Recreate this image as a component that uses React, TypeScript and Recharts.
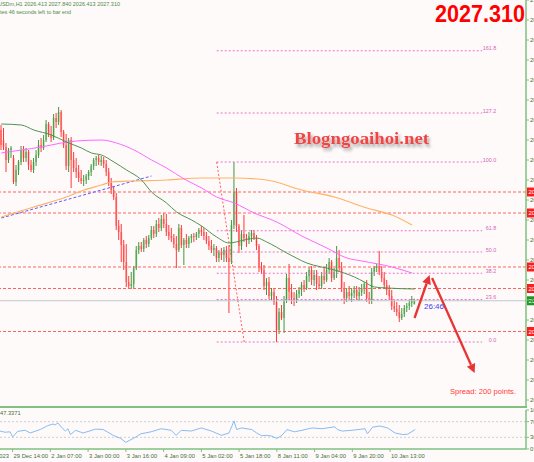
import React from 'react';
import { ComposedChart, Bar, Line, XAxis, YAxis, ReferenceLine } from 'recharts';

const opens = [
  2070.0, 2067.5, 2065.75, 2062.5, 2065.0, 2063.0, 2057.0, 2060.0, 2062.0, 2065.0,
  2063.0, 2064.5, 2061.25, 2060.0, 2062.0, 2063.75, 2066.25, 2065.5, 2067.5, 2071.5,
  2069.0, 2068.0, 2073.0, 2072.0, 2074.5, 2069.5, 2066.25, 2061.0, 2067.5, 2062.5,
  2060.5, 2059.5, 2058.0, 2057.25, 2057.5, 2058.5, 2059.5, 2061.0, 2062.5, 2063.0,
  2062.0, 2062.5, 2061.5, 2059.5, 2056.75, 2055.0, 2053.25, 2046.0, 2044.5, 2041.25,
  2037.0, 2032.0, 2031.0, 2031.5, 2035.5, 2040.0, 2041.0, 2040.25, 2042.5, 2041.5,
  2043.0, 2045.0, 2044.0, 2046.5, 2045.5, 2047.75, 2046.5, 2044.5, 2043.5, 2043.0,
  2041.5, 2040.0, 2045.5, 2041.25, 2042.5, 2041.5, 2043.0, 2043.5, 2043.25, 2044.0,
  2045.0, 2044.5, 2043.5, 2042.25, 2041.0, 2040.0, 2040.5, 2038.0, 2039.5, 2038.75,
  2040.0, 2038.0, 2037.0, 2046.25, 2054.5, 2046.0, 2041.0, 2044.0, 2043.0, 2042.5,
  2043.5, 2044.25, 2043.0, 2041.0, 2035.5, 2035.0, 2031.0, 2032.0, 2028.5, 2029.5,
  2027.0, 2020.0, 2024.5, 2023.0, 2027.5, 2033.0, 2029.5, 2028.0, 2027.5, 2029.0,
  2030.0, 2031.25, 2030.5, 2033.5, 2035.0, 2032.5, 2033.75, 2031.5, 2031.0, 2033.5,
  2032.5, 2035.0, 2037.0, 2033.0, 2034.5, 2038.0, 2035.5, 2030.5, 2028.0, 2029.5,
  2028.5, 2029.25, 2030.0, 2028.5, 2029.5, 2030.5, 2031.5, 2028.0, 2027.5, 2034.5,
  2035.5, 2036.0, 2034.5, 2033.0, 2031.25, 2030.0, 2028.5, 2026.0, 2025.25, 2024.5,
  2023.0, 2024.0, 2025.5, 2026.0, 2026.75, 2026.41,
];
const highs = [
  2071.25, 2070.5, 2066.75, 2065.5, 2066.0, 2063.75, 2061.25, 2062.5, 2066.0, 2066.0,
  2065.5, 2065.0, 2062.5, 2063.0, 2065.0, 2067.5, 2068.0, 2068.75, 2072.5, 2072.0,
  2071.0, 2074.0, 2074.25, 2075.75, 2075.0, 2070.0, 2069.0, 2068.0, 2068.25, 2064.5,
  2063.0, 2061.25, 2060.0, 2058.75, 2059.0, 2060.0, 2061.5, 2063.0, 2063.5, 2063.75,
  2063.5, 2063.25, 2062.5, 2060.5, 2058.0, 2056.0, 2054.25, 2047.5, 2046.5, 2042.5,
  2041.5, 2033.5, 2034.5, 2036.0, 2041.0, 2042.0, 2042.0, 2043.0, 2043.5, 2043.75,
  2046.0, 2046.0, 2047.5, 2048.0, 2048.75, 2049.25, 2049.0, 2046.25, 2045.5, 2044.0,
  2043.5, 2046.5, 2046.25, 2043.0, 2044.0, 2043.5, 2044.0, 2044.25, 2044.5, 2045.5,
  2046.0, 2045.5, 2044.5, 2043.5, 2042.5, 2041.5, 2041.0, 2040.0, 2040.5, 2040.75,
  2041.0, 2041.25, 2047.5, 2062.0, 2055.5, 2046.5, 2045.0, 2048.75, 2044.0, 2044.5,
  2045.0, 2045.0, 2043.75, 2041.5, 2037.0, 2036.25, 2033.0, 2033.25, 2030.5, 2030.5,
  2028.5, 2025.5, 2026.25, 2028.5, 2034.0, 2036.5, 2031.5, 2029.5, 2030.0, 2030.75,
  2032.0, 2032.5, 2034.5, 2035.75, 2036.0, 2035.0, 2035.0, 2033.5, 2034.5, 2035.5,
  2036.5, 2038.0, 2037.5, 2035.5, 2041.0, 2040.0, 2037.0, 2032.0, 2030.5, 2031.0,
  2030.5, 2031.0, 2031.0, 2030.75, 2031.5, 2032.0, 2032.5, 2029.5, 2035.5, 2036.0,
  2036.5, 2039.75, 2036.0, 2034.5, 2032.5, 2031.25, 2030.0, 2027.5, 2027.0, 2026.25,
  2025.5, 2026.25, 2026.75, 2027.5, 2028.5, 2027.84,
];
const lows = [
  2065.0, 2065.0, 2059.5, 2061.75, 2063.0, 2056.5, 2056.0, 2058.75, 2061.25, 2062.0,
  2062.0, 2060.0, 2059.5, 2059.25, 2061.0, 2063.0, 2064.5, 2065.0, 2067.0, 2068.25,
  2067.0, 2067.5, 2070.5, 2071.25, 2068.25, 2065.5, 2060.0, 2059.5, 2055.5, 2059.5,
  2058.0, 2057.0, 2056.5, 2056.0, 2056.5, 2057.5, 2058.5, 2060.0, 2061.0, 2061.25,
  2061.0, 2060.5, 2058.5, 2056.0, 2054.0, 2052.5, 2045.0, 2042.5, 2037.0, 2035.0,
  2030.75, 2030.25, 2030.25, 2030.25, 2035.0, 2039.0, 2039.5, 2039.5, 2040.5, 2040.75,
  2042.5, 2043.0, 2043.25, 2044.5, 2044.75, 2045.5, 2043.5, 2042.5, 2042.0, 2040.5,
  2035.5, 2039.5, 2040.5, 2036.25, 2040.5, 2040.5, 2041.75, 2042.0, 2042.5, 2043.0,
  2043.5, 2042.5, 2041.5, 2040.0, 2039.25, 2038.5, 2037.0, 2037.0, 2037.5, 2037.0,
  2037.0, 2024.25, 2036.5, 2045.25, 2044.5, 2039.25, 2040.0, 2042.0, 2040.75, 2041.5,
  2042.0, 2042.5, 2040.0, 2034.5, 2034.0, 2030.0, 2028.75, 2027.75, 2027.5, 2026.25,
  2017.0, 2019.0, 2022.5, 2019.25, 2026.75, 2027.5, 2026.5, 2026.0, 2026.75, 2028.0,
  2028.5, 2029.5, 2030.0, 2032.0, 2031.25, 2031.0, 2030.0, 2030.5, 2030.25, 2031.5,
  2032.0, 2034.0, 2032.0, 2032.5, 2033.0, 2034.5, 2029.5, 2026.5, 2027.0, 2027.5,
  2027.0, 2028.0, 2027.5, 2027.25, 2028.5, 2029.0, 2027.0, 2026.5, 2026.5, 2033.5,
  2034.5, 2033.75, 2032.0, 2030.5, 2028.75, 2027.5, 2025.0, 2024.5, 2023.5, 2022.0,
  2022.5, 2023.25, 2024.5, 2025.0, 2025.75, 2026.41,
];
const closes = [
  2066.25, 2065.75, 2062.5, 2065.0, 2065.5, 2057.0, 2060.0, 2062.0, 2065.0, 2063.0,
  2064.5, 2061.25, 2060.0, 2062.0, 2063.75, 2066.25, 2065.5, 2067.5, 2071.5, 2069.0,
  2068.0, 2073.0, 2072.0, 2074.5, 2069.5, 2066.25, 2061.0, 2067.5, 2062.5, 2060.5,
  2059.5, 2058.0, 2057.25, 2057.5, 2058.5, 2059.5, 2061.0, 2062.5, 2063.0, 2062.0,
  2062.5, 2061.5, 2059.5, 2056.75, 2055.0, 2053.25, 2046.0, 2044.5, 2041.25, 2037.0,
  2032.0, 2031.0, 2031.5, 2035.5, 2040.0, 2041.0, 2040.25, 2042.5, 2041.5, 2043.0,
  2045.0, 2044.0, 2046.5, 2045.5, 2047.75, 2046.5, 2044.5, 2043.5, 2043.0, 2041.5,
  2040.0, 2045.5, 2041.25, 2042.5, 2041.5, 2043.0, 2043.5, 2043.25, 2044.0, 2045.0,
  2044.5, 2043.5, 2042.25, 2041.0, 2040.0, 2040.5, 2038.0, 2039.5, 2038.75, 2040.0,
  2038.0, 2037.0, 2046.25, 2054.5, 2046.0, 2041.0, 2044.0, 2043.0, 2042.5, 2043.5,
  2044.25, 2043.0, 2041.0, 2035.5, 2035.0, 2031.0, 2032.0, 2028.5, 2029.5, 2027.0,
  2020.0, 2024.5, 2023.0, 2027.5, 2033.0, 2029.5, 2028.0, 2027.5, 2029.0, 2030.0,
  2031.25, 2030.5, 2033.5, 2035.0, 2032.5, 2033.75, 2031.5, 2031.0, 2033.5, 2032.5,
  2035.0, 2037.0, 2033.0, 2034.5, 2038.0, 2035.5, 2030.5, 2028.0, 2029.5, 2028.5,
  2029.25, 2030.0, 2028.5, 2029.5, 2030.5, 2031.5, 2028.0, 2027.5, 2034.5, 2035.5,
  2036.0, 2034.5, 2033.0, 2031.25, 2030.0, 2028.5, 2026.0, 2025.25, 2024.5, 2023.0,
  2024.0, 2025.5, 2026.0, 2026.75, 2027.75, 2027.31,
];

// moving averages, [bar, price]
const maGreen: [number, number][] = [
  [0, 2071.5], [8, 2071.25], [13, 2070.0], [20, 2068.75], [26, 2067.0], [32, 2065.5],
  [36, 2064.25], [40, 2063.75], [45, 2062.0], [50, 2060.0], [56, 2057.5], [60, 2054.5],
  [66, 2051.75], [70, 2049.5], [76, 2047.5], [80, 2046.0], [86, 2043.25], [91, 2041.75],
  [97, 2042.5], [102, 2043.0], [106, 2042.0], [114, 2039.25], [122, 2036.75], [133, 2035.0],
  [141, 2033.25], [145, 2032.0], [149, 2030.75], [154, 2030.5], [165, 2030.25],
];
const maMagenta: [number, number][] = [
  [0, 2064.25], [8, 2065.0], [16, 2065.75], [24, 2066.75], [30, 2067.25], [40, 2067.5],
  [46, 2066.75], [53, 2065.0], [60, 2062.5], [66, 2060.5], [73, 2057.75], [80, 2055.5],
  [86, 2053.25], [93, 2051.75], [101, 2049.25], [110, 2047.0], [120, 2043.5], [130, 2040.5],
  [138, 2038.0], [144, 2037.25], [156, 2035.75], [164, 2034.25],
];
const maOrange: [number, number][] = [
  [0, 2048.25], [13, 2050.75], [26, 2053.25], [33, 2055.0], [40, 2056.25], [44, 2057.0],
  [53, 2057.25], [66, 2057.5], [80, 2058.0], [93, 2058.0], [106, 2057.5], [120, 2055.0],
  [133, 2053.25], [146, 2050.5], [156, 2048.75], [164, 2046.25],
];

const rsiPoints: [number, number][] = [
  [0, 46], [2, 43], [4, 44], [5, 31], [7, 45], [10, 48], [12, 41], [16, 50], [19, 60], [21, 64],
  [22, 62], [23, 67], [25, 52], [26, 46], [27, 52], [28, 37], [30, 48], [33, 41], [38, 51], [41, 50],
  [45, 35], [48, 27], [50, 17], [54, 31], [56, 39], [60, 44], [64, 52], [68, 48], [70, 35], [72, 48],
  [76, 46], [80, 54], [84, 46], [88, 35], [91, 41], [93, 72], [94, 50], [96, 54], [100, 50], [102, 41],
  [104, 34], [106, 35], [108, 33], [110, 27], [112, 35], [114, 50], [117, 44], [120, 48], [124, 54],
  [128, 52], [133, 57], [134, 50], [136, 46], [140, 48], [145, 52], [146, 39], [148, 56], [151, 59],
  [154, 54], [157, 41], [160, 37], [162, 38], [165, 50],
];

const levelLines = [2054.5, 2049.25, 2035.75, 2030.375, 2019.625];
const bidPrice = 2027.31;
const fibLow = 2017.0;
const fibHigh = 2062.0;
const fibLevels = [0, 23.6, 38.2, 50, 61.8, 100, 127.2, 161.8];
const fibLabels = ['0.0', '23.6', '38.2', '50.0', '61.8', '100.0', '127.2', '161.8'];
const priceTicks = [
  2102.5, 2097.5, 2092.5, 2087.5, 2082.5, 2077.5, 2072.5, 2067.5, 2062.5, 2057.5, 2052.5,
  2047.5, 2042.5, 2037.5, 2032.5, 2027.5, 2022.5, 2017.5, 2012.5, 2007.5, 2002.5,
];
const timeTicks = [0, 5, 20, 35, 50, 65, 80, 95, 110, 125, 140, 155];
const timeLabels = [
  '28 Dec 2023', '29 Dec 14:00', '2 Jan 07:00', '3 Jan 00:00', '3 Jan 16:00', '4 Jan 09:00',
  '5 Jan 02:00', '5 Jan 18:00', '8 Jan 11:00', '9 Jan 04:00', '9 Jan 20:00', '10 Jan 13:00',
];

const SLOTS = 210;
const FRAME = '#80c080';
const AXIS_TEXT = '#3f6f3f';
const FONT = 'Liberation Sans, Arial, sans-serif';

const rows: any[] = Array.from({ length: SLOTS }, (_, i) => ({
  i,
  range: i < closes.length ? [lows[i], highs[i]] : undefined,
  o: opens[i],
  h: highs[i],
  l: lows[i],
  c: closes[i],
}));
maGreen.forEach(([i, v]) => (rows[i].green = v));
maMagenta.forEach(([i, v]) => (rows[i].magenta = v));
maOrange.forEach(([i, v]) => (rows[i].orange = v));
rsiPoints.forEach(([i, v]) => (rows[i].rsi = v));

const Candle = (props: any) => {
  const { x, y, width, height, payload } = props;
  if (!payload || payload.c == null || !isFinite(y) || !isFinite(height)) return null;
  const { o, h, l, c } = payload;
  const span = h - l || 1;
  const py = (v: number) => y + ((h - v) / span) * height;
  const up = c >= o;
  const cx = x + width / 2;
  const top = py(Math.max(o, c));
  const bot = py(Math.min(o, c));
  return (
    <g>
      <rect x={x} y={top} width={width} height={Math.max(bot - top, 1)} fill={up ? '#a6d4a0' : '#ffa6a6'} />
      <line x1={cx} x2={cx} y1={y} y2={y + height} stroke={up ? '#3f973f' : '#ff3838'} strokeWidth={1} />
    </g>
  );
};

const PriceTag = ({ viewBox, price, tagColor }: any) => {
  if (!viewBox) return null;
  const x = viewBox.x + viewBox.width + 1;
  return (
    <g>
      <rect x={x} y={viewBox.y - 4.5} width={14} height={9} fill={tagColor} />
      <text x={x + 1.5} y={viewBox.y + 2.3} fontSize={6} fill="#fff" fontFamily={FONT}>
        {price.toFixed(2)}
      </text>
    </g>
  );
};

const FibTag = ({ viewBox, txt }: any) => {
  if (!viewBox) return null;
  return (
    <text x={viewBox.x + viewBox.width + 14} y={viewBox.y - 0.5} textAnchor="end" fontSize={5.4} fill="#d462b8" fontFamily={FONT}>
      {txt}
    </text>
  );
};

const ArrowShape = (props: any) => {
  const { x1, y1, x2, y2 } = props;
  if (![x1, y1, x2, y2].every((v) => isFinite(v))) return null;
  const a = Math.atan2(y2 - y1, x2 - x1);
  const len = 9;
  const half = 4.5;
  const bx = x2 - len * Math.cos(a);
  const by = y2 - len * Math.sin(a);
  const pts = [
    [x2, y2],
    [bx + half * Math.sin(a), by - half * Math.cos(a)],
    [bx - half * Math.sin(a), by + half * Math.cos(a)],
  ];
  return (
    <g>
      <line x1={x1} y1={y1} x2={bx} y2={by} stroke="#e83434" strokeWidth={2.3} />
      <polygon points={pts.map((p) => p.join(',')).join(' ')} fill="#e83434" />
    </g>
  );
};

const TimeTick = (props: any) => {
  const { x, y, payload } = props;
  const k = timeTicks.indexOf(payload.value);
  if (k < 0) return null;
  const axisY = y - 5;
  const lead = k === 0;
  return (
    <g>
      {!lead && <line x1={x} x2={x} y1={axisY} y2={axisY + 3} stroke={FRAME} />}
      <text x={lead ? x - 24 : x + 1} y={axisY + 8.5} fontSize={5.8} fill={AXIS_TEXT} fontFamily={FONT}>
        {timeLabels[k]}
      </text>
    </g>
  );
};

const PriceChart: React.FC = () => {
  return (
    <ComposedChart width={534} height={408} data={rows} margin={{ top: 0, right: 0, bottom: 1, left: 0 }}>
      <XAxis dataKey="i" type="category" hide />
      <YAxis
        orientation="right"
        type="number"
        width={8}
        domain={[2000.75, 2102.5]}
        allowDataOverflow
        ticks={priceTicks}
        interval={0}
        tickSize={3}
        tickMargin={1}
        tickFormatter={(v: number) => v.toFixed(2)}
        tick={{ fontSize: 6, fill: AXIS_TEXT, fontFamily: FONT }}
        axisLine={{ stroke: FRAME, strokeWidth: 1.5 }}
        tickLine={{ stroke: FRAME }}
      />
      {levelLines.map((p) => (
        <ReferenceLine
          key={p}
          y={p}
          stroke="#ff6060"
          strokeDasharray="3 2"
          label={(lp: any) => <PriceTag viewBox={lp.viewBox} price={p} tagColor="#ff1c1c" />}
        />
      ))}
      <ReferenceLine
        y={bidPrice}
        stroke="#c2c5cf"
        label={(lp: any) => <PriceTag viewBox={lp.viewBox} price={bidPrice} tagColor="#1f9a1f" />}
      />
      {fibLevels.map((lv, k) => {
        const p = fibLow + ((fibHigh - fibLow) * lv) / 100;
        return (
          <ReferenceLine
            key={lv}
            segment={[{ x: 86, y: p }, { x: 192, y: p }]}
            stroke="#e672c8"
            strokeDasharray="2 2"
            label={(lp: any) => <FibTag viewBox={lp.viewBox} txt={fibLabels[k]} />}
          />
        );
      })}
      <ReferenceLine segment={[{ x: 86, y: fibHigh }, { x: 97, y: fibLow }]} stroke="#ff5c5c" strokeDasharray="2 2" />
      <ReferenceLine segment={[{ x: 0, y: 2048.0 }, { x: 60, y: 2058.5 }]} stroke="#5c5cff" strokeDasharray="3 2" />
      <Line dataKey="orange" stroke="#ffb266" strokeWidth={1.2} dot={false} activeDot={false} connectNulls type="monotone" isAnimationActive={false} />
      <Line dataKey="magenta" stroke="#ff66ff" strokeWidth={1} dot={false} activeDot={false} connectNulls type="monotone" isAnimationActive={false} />
      <Bar dataKey="range" barSize={2} shape={(p: any) => <Candle {...p} />} activeBar={false} isAnimationActive={false} />
      <Line dataKey="green" stroke="#4e944e" strokeWidth={1} dot={false} activeDot={false} connectNulls type="monotone" isAnimationActive={false} />
      <ReferenceLine segment={[{ x: 165, y: 2023.0 }, { x: 171, y: 2033.75 }]} shape={(p: any) => <ArrowShape {...p} />} />
      <ReferenceLine segment={[{ x: 172, y: 2033.0 }, { x: 189, y: 2009.25 }]} shape={(p: any) => <ArrowShape {...p} />} />
    </ComposedChart>
  );
};

const RsiChart: React.FC = () => {
  return (
    <ComposedChart width={534} height={54} data={rows} margin={{ top: 2, right: 0, bottom: 0, left: 0 }}>
      <XAxis
        dataKey="i"
        type="category"
        height={13}
        ticks={timeTicks}
        interval={0}
        tickSize={3}
        tickMargin={2}
        tickLine={false}
        tick={(p: any) => <TimeTick {...p} />}
        axisLine={{ stroke: FRAME, strokeWidth: 1.5 }}
      />
      <YAxis
        orientation="right"
        type="number"
        width={8}
        domain={[0, 100]}
        ticks={[0, 30, 70, 100]}
        interval={0}
        tickSize={3}
        tickMargin={1}
        tick={{ fontSize: 6, fill: AXIS_TEXT, fontFamily: FONT }}
        axisLine={{ stroke: FRAME, strokeWidth: 1.5 }}
        tickLine={{ stroke: FRAME }}
      />
      <ReferenceLine y={70} stroke="#cfcfcf" strokeDasharray="2 2" />
      <ReferenceLine y={30} stroke="#cfcfcf" strokeDasharray="2 2" />
      <Line dataKey="rsi" stroke="#86bcf4" strokeWidth={1} dot={false} activeDot={false} connectNulls type="linear" isAnimationActive={false} />
    </ComposedChart>
  );
};

const App: React.FC = () => {
  return (
    <div style={{ position: 'absolute', left: 0, top: 0, width: 534, height: 462, background: '#fffafa', overflow: 'hidden' }}>
      <div style={{ position: 'absolute', left: 0, top: 0 }}>
        <PriceChart />
      </div>
      <div style={{ position: 'absolute', left: 0, top: 406, width: 527, height: 2, background: FRAME }} />
      <div style={{ position: 'absolute', left: 0, top: 408 }}>
        <RsiChart />
      </div>
      <svg width={534} height={462} style={{ position: 'absolute', left: 0, top: 0, pointerEvents: 'none' }}>
        <defs>
          <filter id="wm" x="-10%" y="-30%" width="120%" height="160%">
            <feDropShadow dx="2" dy="3" stdDeviation="1.5" floodColor="#000" floodOpacity="0.35" />
          </filter>
        </defs>
        <text x={-2} y={6.3} fontSize={5.6} fill="#4b8b4b" fontFamily={FONT} textLength={122} lengthAdjust="spacingAndGlyphs">
          USDm,H1  2026.413 2027.840 2026.413 2027.310
        </text>
        <text x={0} y={14.3} fontSize={5.6} fill="#4b8b4b" fontFamily={FONT} textLength={71} lengthAdjust="spacingAndGlyphs">
          tes 46 seconds left to bar end
        </text>
        <text x={435} y={22} fontSize={23} fontWeight="bold" fill="#ff0000" fontFamily={FONT} textLength={90} lengthAdjust="spacingAndGlyphs">
          2027.310
        </text>
        <text x={294} y={144} fontSize={17} fontWeight="bold" fill="#f04545" fontFamily="Liberation Serif, serif" textLength={135} lengthAdjust="spacingAndGlyphs" filter="url(#wm)">
          Blogngoaihoi.net
        </text>
        <text x={424} y={308.5} fontSize={8} fill="#3c3cf0" fontFamily={FONT} textLength={20} lengthAdjust="spacingAndGlyphs">
          26:46
        </text>
        <text x={450} y={393.5} fontSize={7.5} fill="#ff3a3a" fontFamily={FONT} textLength={66} lengthAdjust="spacingAndGlyphs">
          Spread: 200 points.
        </text>
        <text x={0} y={415} fontSize={5.7} fill={AXIS_TEXT} fontFamily={FONT}>
          47.3371
        </text>
      </svg>
    </div>
  );
};

export default App;
